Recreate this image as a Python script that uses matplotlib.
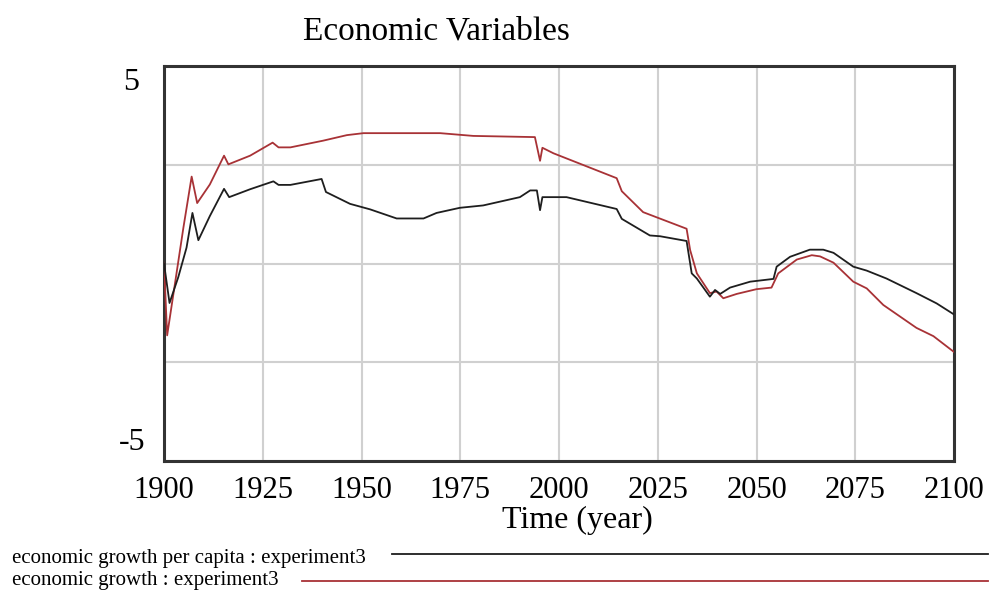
import matplotlib
matplotlib.use("Agg")
import matplotlib.pyplot as plt

# economic growth per capita : experiment3 (black)
years_pc = [1900, 1901.4, 1903.6, 1905.7, 1907.2, 1908.7, 1911.6, 1915.2, 1916.5,
            1921.8, 1927.7, 1929, 1932, 1939.9, 1941, 1947.1, 1952.2, 1958.9,
            1965.7, 1969, 1974.9, 1980.8, 1990.1, 1992.7, 1994.4, 1995.2, 1995.8,
            2001.9, 2014.6, 2015.9, 2023, 2025.6, 2032.3, 2033.6, 2034.9, 2038.2,
            2039.5, 2040.8, 2043.3, 2048.4, 2054.3, 2055.1, 2058.5, 2063.5, 2066.9,
            2069.5, 2074.5, 2077.9, 2082.9, 2090.5, 2095.6, 2100]
growth_pc = [0, -1.0, -0.35, 0.40, 1.28, 0.59, 1.20, 1.89, 1.68,
             1.88, 2.08, 1.99, 1.99, 2.14, 1.81, 1.51, 1.37, 1.14,
             1.14, 1.28, 1.41, 1.47, 1.68, 1.85, 1.85, 1.35, 1.68,
             1.68, 1.38, 1.13, 0.71, 0.69, 0.57, -0.25, -0.38, -0.84,
             -0.67, -0.77, -0.61, -0.46, -0.39, -0.08, 0.17, 0.35, 0.35,
             0.27, -0.08, -0.18, -0.38, -0.75, -1.01, -1.29]

# economic growth : experiment3 (red)
years_g = [1900, 1900.8, 1904.9, 1907, 1908.4, 1911.6, 1915.2, 1916.3, 1921.8,
           1927.5, 1929, 1932, 1940.3, 1946.3, 1950.5, 1969.9, 1978.3, 1993.9,
           1995.2, 1995.8, 1998.6, 2014.6, 2015.9, 2021.3, 2024.7, 2032.3,
           2033.2, 2034.9, 2038.2, 2039.9, 2041.6, 2045, 2050, 2053.8, 2055.5,
           2060.2, 2064, 2066.1, 2069.5, 2074.5, 2077.9, 2082.1, 2090.5, 2094.8,
           2100]
growth_g = [0, -1.82, 0.9, 2.2, 1.53, 2.0, 2.73, 2.51, 2.73,
            3.06, 2.94, 2.94, 3.11, 3.25, 3.30, 3.30, 3.23, 3.20,
            2.60, 2.93, 2.79, 2.16, 1.83, 1.30, 1.17, 0.88,
            0.34, -0.25, -0.75, -0.71, -0.88, -0.77, -0.65, -0.61, -0.25,
            0.10, 0.21, 0.18, 0.02, -0.46, -0.63, -1.05, -1.63, -1.84,
            -2.24]

x_ticks = list(range(1900, 2101, 25))
legend_labels = ["economic growth per capita : experiment3",
                 "economic growth : experiment3"]

W, H = 994, 592
serif = ["Liberation Serif", "DejaVu Serif"]
black = "#1e1e1e"
red = "#a83236"

fig = plt.figure(figsize=(W / 100, H / 100), dpi=100)
ax = fig.add_axes([164 / W, 1 - 461 / H, (954 - 164) / W, (461 - 66) / H])

ax.plot(years_pc, growth_pc, color=black, lw=1.3, zorder=4)
ax.plot(years_g, growth_g, color=red, lw=1.3, zorder=3)

ax.set_xlim(1900, 2100)
ax.set_ylim(-5, 5)
ax.set_xticks(x_ticks)
ax.set_xticklabels([str(t) for t in x_ticks], fontfamily=serif, fontsize=22)
ax.set_yticks([-5, -2.5, 0, 2.5, 5])
ax.set_yticklabels([])
ax.tick_params(length=0, pad=11)
ax.grid(True, color="#d0d0d0", lw=1.5)
ax.set_axisbelow(True)
for s in ax.spines.values():
    s.set_linewidth(2.2)
    s.set_color("#333333")

# only the end values are labelled on the y axis
fig.text(139 / W, 1 - 68 / H, "5", ha="right", va="top", fontfamily=serif, fontsize=23)
fig.text(145 / W, 1 - 457 / H, "-5", ha="right", va="bottom", fontfamily=serif, fontsize=23)

fig.text(436 / W, 1 - 40 / H, "Economic Variables", ha="center", va="baseline",
         fontfamily=serif, fontsize=24)
fig.text(577 / W, 1 - 528 / H, "Time (year)", ha="center", va="baseline",
         fontfamily=serif, fontsize=23)

# legend drawn as text plus lines under the plot
fig.text(12 / W, 1 - 563 / H, legend_labels[0], ha="left", va="baseline",
         fontfamily=serif, fontsize=15)
fig.text(12 / W, 1 - 585 / H, legend_labels[1], ha="left", va="baseline",
         fontfamily=serif, fontsize=15)
fig.add_artist(plt.Line2D([392 / W, 988 / W], [1 - 554 / H, 1 - 554 / H],
                          color=black, lw=1.3, transform=fig.transFigure))
fig.add_artist(plt.Line2D([302 / W, 988 / W], [1 - 581 / H, 1 - 581 / H],
                          color=red, lw=1.3, transform=fig.transFigure))

fig.savefig("out.png", dpi=100, facecolor="white")
